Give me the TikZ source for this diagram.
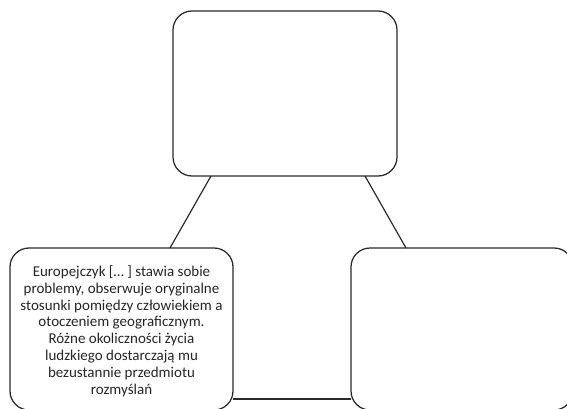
\documentclass[tikz,border=0pt]{standalone}
\usepackage{fontspec}
\setmainfont{Carlito}
\definecolor{edge}{HTML}{2A2A2A}
\tikzset{
  panel/.style={draw=edge, line width=1.25pt, rounded corners=19pt, fill=white,
    inner sep=0pt, outer sep=0pt},
  link/.style={draw=edge, line width=1.2pt},
  quote/.style={align=center, font=\fontsize{15}{16.8}\selectfont, text=black!85}
}
\begin{document}
\begin{tikzpicture}[x=1pt, y=-1pt]
  \useasboundingbox (0,0) rectangle (567,409);
  % the three boxes
  \node[panel, minimum width=224pt, minimum height=165pt] (top) at (285,93.5) {};
  \node[panel, minimum width=223pt, minimum height=162pt] (left) at (121.5,329) {};
  \node[panel, minimum width=222pt, minimum height=162pt] (right) at (462,329) {};
  % connecting lines
  \draw[link] ([xshift=-74pt]top.south) -- ([xshift=48.5pt]left.north);
  \draw[link] ([xshift=80pt]top.south) -- ([xshift=-56pt]right.north);
  \draw[link] ([yshift=-70pt]left.east) -- ([yshift=-70pt]right.west);
  % quotation
  \node[quote] (cite) at (121.5,331) {Europejczyk [… ] stawia sobie\\
    problemy, obserwuje oryginalne\\
    stosunki pomiędzy człowiekiem a\\
    otoczeniem geograficznym.\\
    Różne okoliczności życia\\
    ludzkiego dostarczają mu\\
    bezustannie przedmiotu\\
    rozmyślań};
\end{tikzpicture}
\end{document}
